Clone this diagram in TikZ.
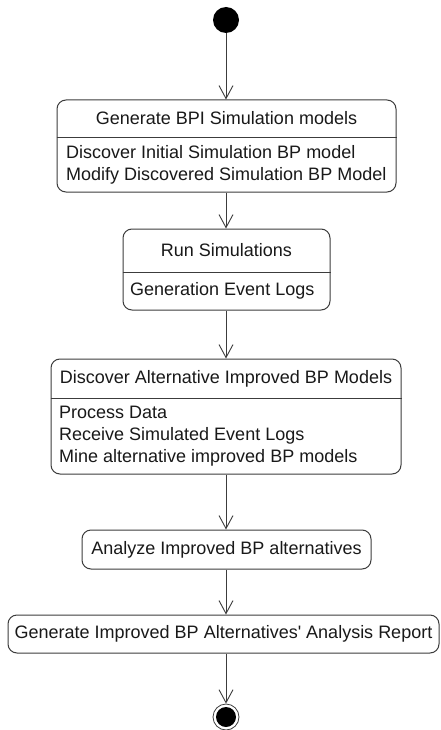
\documentclass[tikz,border=0pt]{standalone}
\usepackage{fontspec}
\setmainfont{Liberation Sans}
\usetikzlibrary{arrows.meta}
\definecolor{ln}{RGB}{60,60,60}
\definecolor{tx}{RGB}{25,25,25}
\begin{document}
\begin{tikzpicture}[x=1pt,y=-1pt,
  box/.style={draw=ln, line width=1pt, rounded corners=9pt, inner sep=0pt},
  lbl/.style={inner sep=0pt, text=tx, font=\fontsize{18}{22}\selectfont, align=left},
  flow/.style={draw=ln, line width=0.9pt, -{Straight Barb[length=13pt,width=14pt,line width=0.9pt]}},
  divider/.style={draw=ln, line width=1pt}]
\useasboundingbox[fill=white] (0,0) rectangle (440,730);
% start
\node[circle, fill=black, minimum size=26pt, inner sep=0pt] (start) at (226,20) {};
% box 1
\node[box, minimum width=339pt, minimum height=92pt] (b1) at (226.5,146) {};
\coordinate (d1) at (0,138);
\draw[divider] (b1.west |- d1) -- (b1.east |- d1);
\node[lbl] (t1) at (226.5,118.5) {Generate BPI Simulation models};
\node[lbl, anchor=west] (l1) at (66,165) {Discover Initial Simulation BP model\\Modify Discovered Simulation BP Model};
% box 2
\node[box, minimum width=207pt, minimum height=81pt] (b2) at (226.5,269.5) {};
\coordinate (d2) at (0,272);
\draw[divider] (b2.west |- d2) -- (b2.east |- d2);
\node[lbl] (t2) at (226.5,250.5) {Run Simulations};
\node[lbl, anchor=west] (l2) at (130,291) {Generation Event Logs};
% box 3
\node[box, minimum width=350pt, minimum height=115pt] (b3) at (226,416.5) {};
\coordinate (d3) at (0,398);
\draw[divider] (b3.west |- d3) -- (b3.east |- d3);
\node[lbl] (t3) at (226,378.5) {Discover Alternative Improved BP Models};
\node[lbl, anchor=west] (l3) at (59,436) {Process Data\\Receive Simulated Event Logs\\Mine alternative improved BP models};
% box 4
\node[box, minimum width=289pt, minimum height=39pt] (b4) at (226.5,549.5) {};
\node[lbl] (t4) at (226.5,549.5) {Analyze Improved BP alternatives};
% box 5
\node[box, minimum width=431pt, minimum height=38pt] (b5) at (223.5,634) {};
\node[lbl] (t5) at (223.5,634) {Generate Improved BP Alternatives\textquotesingle\ Analysis Report};
% end
\node[circle, draw=ln, line width=0.8pt, minimum size=26pt, inner sep=0pt,
  path picture={\fill[black] (path picture bounding box.center) circle (10pt);}] (end) at (226,717) {};
% flows
\draw[flow] (start) -- (start |- b1.north);
\draw[flow] (start |- b1.south) -- (start |- b2.north);
\draw[flow] (start |- b2.south) -- (start |- b3.north);
\draw[flow] (start |- b3.south) -- (start |- b4.north);
\draw[flow] (start |- b4.south) -- (start |- b5.north);
\draw[flow] (start |- b5.south) -- (end);
\end{tikzpicture}
\end{document}
